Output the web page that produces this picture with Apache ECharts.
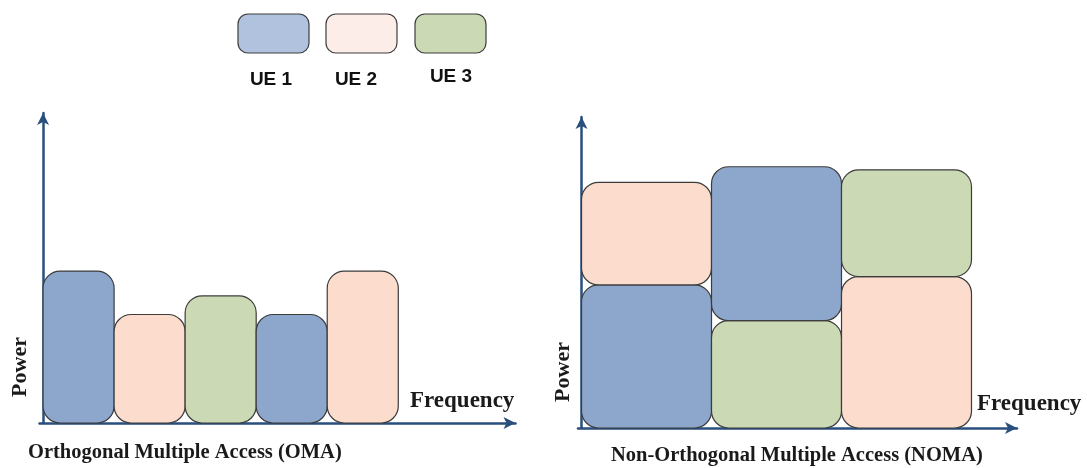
<!DOCTYPE html>
<html>
<head>
<meta charset="utf-8">
<script src="https://cdn.jsdelivr.net/npm/echarts@6/dist/echarts.min.js"></script>
<style>
  html, body { margin: 0; padding: 0; background: #fff; }
  #chart { width: 1087px; height: 468px; }
</style>
</head>
<body>
<div id="chart"></div>
<script>
// users
const userNames = ['UE 1', 'UE 2', 'UE 3']

// OMA: one user per frequency slot
const omaUsers = [0, 1, 2, 0, 1]
const omaFreqStart = [0, 1, 2, 3, 4]
const omaFreqEnd = [1, 2, 3, 4, 5]
const omaPower = [4.9, 3.5, 4.1, 3.5, 4.9]

// NOMA: two users share each slot, stacked in power
const nomaFreqStart = [0, 1, 2]
const nomaFreqEnd = [1, 2, 3]
const nomaLowUsers = [0, 2, 1]
const nomaLowPower = [4.6, 3.45, 4.87]
const nomaHighUsers = [1, 0, 2]
const nomaHighPower = [7.9, 8.4, 8.3]

const barColors = ['#8da6cb', '#fcdccd', '#cbd9b4']
const legendColors = ['#b0c2dd', '#fcede8', '#ccd9b5']
const axisColor = '#284f7e'
const serif = '"Liberation Serif", "Times New Roman", serif'

const omaData = omaUsers.map((u, i) => [omaFreqStart[i], omaFreqEnd[i], 0, omaPower[i], u])
const nomaData = []
nomaFreqStart.forEach((f, i) => {
  nomaData.push([f, nomaFreqEnd[i], 0, nomaLowPower[i], nomaLowUsers[i]])
  nomaData.push([f, nomaFreqEnd[i], nomaLowPower[i], nomaHighPower[i], nomaHighUsers[i]])
})

const makeRender = (radius) => (params, api) => {
  const p0 = api.coord([api.value(0), api.value(3)])
  const p1 = api.coord([api.value(1), api.value(2)])
  return {
    type: 'rect',
    shape: { x: p0[0], y: p0[1], width: p1[0] - p0[0], height: p1[1] - p0[1], r: radius },
    style: { fill: barColors[api.value(4)], stroke: '#3c3c3c', lineWidth: 1.2 }
  }
}

const axisLine = {
  show: true,
  symbol: ['none', 'arrow'],
  symbolSize: [9, 12],
  lineStyle: { color: axisColor, width: 2.5 }
}
const plainAxis = (extra) => Object.assign({
  type: 'value',
  axisLine,
  axisTick: { show: false },
  axisLabel: { show: false },
  splitLine: { show: false }
}, extra)

const chart = echarts.init(document.getElementById('chart'))

const legendItems = []
const legendBoxX = [238, 326, 415]
const legendLabelX = [271, 356, 451]
const legendLabelY = [80, 80, 77]
userNames.forEach((name, i) => {
  legendItems.push({
    type: 'rect',
    shape: { x: legendBoxX[i], y: 14, width: 71, height: 39, r: 10 },
    style: { fill: legendColors[i], stroke: '#3c3c3c', lineWidth: 1.2 }
  })
  legendItems.push({
    type: 'text',
    x: legendLabelX[i],
    y: legendLabelY[i],
    style: {
      text: name, fill: '#111', font: 'bold 19px "Liberation Sans", Arial, sans-serif',
      align: 'center', verticalAlign: 'middle'
    }
  })
})

const textEl = (text, x, y, size, rotation, align) => ({
  type: 'text',
  x, y, z: 100, rotation: rotation || 0,
  style: {
    text, fill: '#1a1a1a', font: 'bold ' + size + 'px ' + serif,
    align: align || 'left', verticalAlign: 'middle'
  }
})

chart.setOption({
  animation: false,
  backgroundColor: '#fff',
  grid: [
    { left: 39.5, top: 113, width: 476, height: 310 },
    { left: 578, top: 117, width: 439, height: 311 }
  ],
  xAxis: [
    plainAxis({ gridIndex: 0, min: -0.05, max: 6.65 }),
    plainAxis({ gridIndex: 1, min: -0.027, max: 3.35 })
  ],
  yAxis: [
    plainAxis({ gridIndex: 0, min: 0, max: 10 }),
    plainAxis({ gridIndex: 1, min: 0, max: 10 })
  ],
  series: [
    {
      type: 'custom', xAxisIndex: 0, yAxisIndex: 0,
      renderItem: makeRender(17), data: omaData, z: 1
    },
    {
      type: 'custom', xAxisIndex: 1, yAxisIndex: 1,
      renderItem: makeRender(17), data: nomaData, z: 1
    }
  ],
  graphic: legendItems.concat([
    textEl('Frequency', 410, 401, 23),
    textEl('Frequency', 977, 404, 23),
    textEl('Power', 20, 367, 22, Math.PI / 2, 'center'),
    textEl('Power', 563, 372, 22, Math.PI / 2, 'center'),
    textEl('Orthogonal Multiple Access (OMA)', 28, 453, 20.5),
    textEl('Non-Orthogonal Multiple Access (NOMA)', 611, 456, 20.5)
  ])
})
</script>
</body>
</html>
